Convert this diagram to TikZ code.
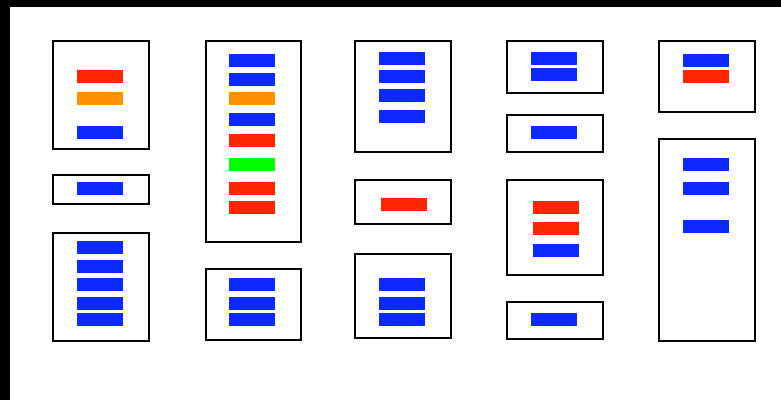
\documentclass[tikz,border=0pt]{standalone}
\definecolor{cblue}{RGB}{12,42,255}
\definecolor{cred}{RGB}{255,38,0}
\definecolor{corange}{RGB}{255,145,0}
\definecolor{cgreen}{RGB}{0,255,0}
\begin{document}
\begin{tikzpicture}[x=1pt,y=-1pt,
  panel/.style={draw=black,line width=2pt,fill=white,minimum width=95.6pt,inner sep=0pt,outer sep=0pt},
  bar/.style={draw=none,minimum width=46pt,minimum height=13pt,inner sep=0pt,outer sep=0pt},
  bb/.style={bar,fill=cblue},
  br/.style={bar,fill=cred},
  bo/.style={bar,fill=corange},
  bg/.style={bar,fill=cgreen}]
\useasboundingbox (0,0) rectangle (781,400);
\fill[black] (0,0) rectangle (781,400);
\fill[white] (10,7) rectangle (781,400);
% column 1
\node[panel,minimum height=108pt] (boxA) at (101.2,95) {};
\node[br] (a1) at (100,76.7) {};
\node[bo] (a2) at (100,98.3) {};
\node[bb] (a3) at (100,132.8) {};
\node[panel,minimum height=28.7pt] (boxB) at (101.2,189.3) {};
\node[bb] (b1) at (100,188.5) {};
\node[panel,minimum height=108.6pt] (boxC) at (101.2,287) {};
\node[bb] (c1) at (100,247.5) {};
\node[bb] (c2) at (100,266.2) {};
\node[bb] (c3) at (100,284.8) {};
\node[bb] (c4) at (100,303.5) {};
\node[bb] (c5) at (100,319.5) {};
% column 2
\node[panel,minimum height=201.3pt] (boxD) at (253.3,141.7) {};
\node[bb] (d1) at (252.2,60.7) {};
\node[bb] (d2) at (252.2,79.3) {};
\node[bo] (d3) at (252.2,98.3) {};
\node[bb] (d4) at (252.2,119.5) {};
\node[br] (d5) at (252.2,140.7) {};
\node[bg] (d6) at (252.2,164.7) {};
\node[br] (d7) at (252.2,188.5) {};
\node[br] (d8) at (252.2,207.3) {};
\node[panel,minimum height=71pt] (boxE) at (253.3,304.2) {};
\node[bb] (e1) at (252.2,284.8) {};
\node[bb] (e2) at (252.2,303.5) {};
\node[bb] (e3) at (252.2,319.5) {};
% column 3
\node[panel,minimum height=111pt] (boxF) at (403,96.5) {};
\node[bb] (f1) at (401.5,58.2) {};
\node[bb] (f2) at (401.5,76.8) {};
\node[bb] (f3) at (401.5,95.5) {};
\node[bb] (f4) at (401.5,116.7) {};
\node[panel,minimum height=44pt] (boxG) at (403,202) {};
\node[br] (g1) at (404.2,204.7) {};
\node[panel,minimum height=84pt] (boxH) at (403,296.3) {};
\node[bb] (h1) at (401.5,284.8) {};
\node[bb] (h2) at (401.5,303.5) {};
\node[bb] (h3) at (401.5,319.5) {};
% column 4
\node[panel,minimum height=52pt] (boxI) at (555,67) {};
\node[bb] (i1) at (553.7,58.3) {};
\node[bb] (i2) at (553.7,74.3) {};
\node[panel,minimum height=36.7pt] (boxJ) at (555,133.7) {};
\node[bb] (j1) at (553.7,132.7) {};
\node[panel,minimum height=95pt] (boxK) at (555,227.5) {};
\node[br] (k1) at (556.2,207.3) {};
\node[br] (k2) at (556.2,228.7) {};
\node[bb] (k3) at (556.2,250.2) {};
\node[panel,minimum height=37pt] (boxL) at (555,320.5) {};
\node[bb] (l1) at (553.7,319.5) {};
% column 5
\node[panel,minimum height=70.7pt] (boxM) at (707,76.3) {};
\node[bb] (m1) at (705.7,60.7) {};
\node[br] (m2) at (705.7,76.8) {};
\node[panel,minimum height=201.7pt] (boxN) at (707,239.8) {};
\node[bb] (n1) at (705.7,164.7) {};
\node[bb] (n2) at (705.7,188.7) {};
\node[bb] (n3) at (705.7,226.2) {};
\end{tikzpicture}
\end{document}
